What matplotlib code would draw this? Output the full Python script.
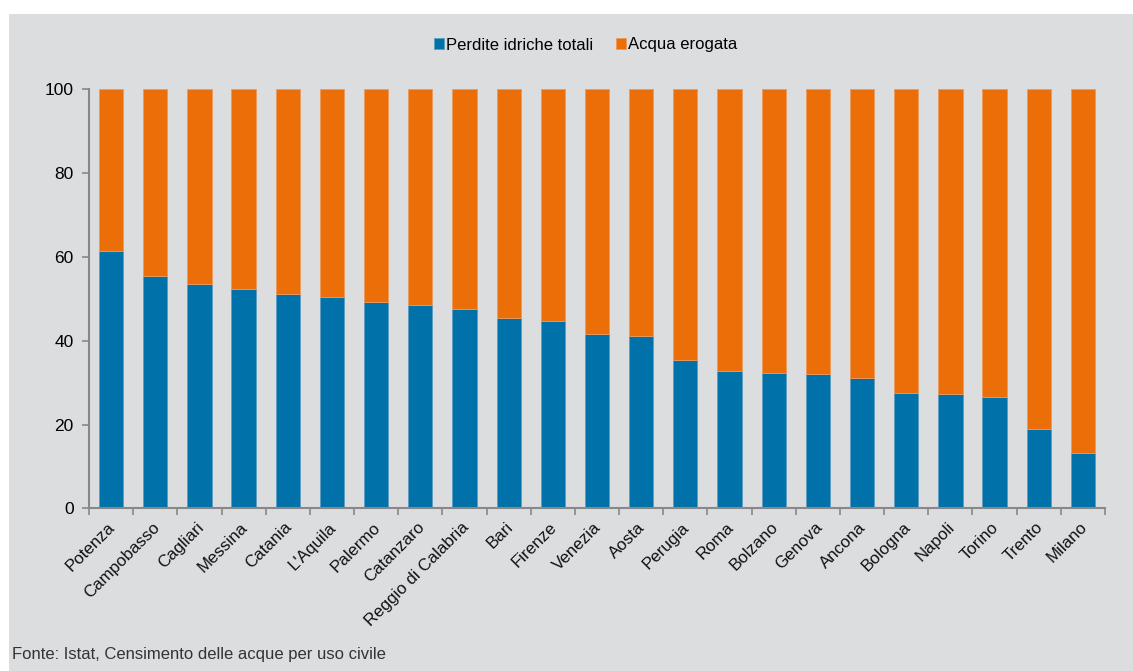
import matplotlib
matplotlib.use("Agg")
import matplotlib.pyplot as plt
from matplotlib.patches import Rectangle

cities = ["Potenza", "Campobasso", "Cagliari", "Messina", "Catania", "L'Aquila",
          "Palermo", "Catanzaro", "Reggio di Calabria", "Bari", "Firenze", "Venezia",
          "Aosta", "Perugia", "Roma", "Bolzano", "Genova", "Ancona", "Bologna",
          "Napoli", "Torino", "Trento", "Milano"]
perdite = [61.3, 55.5, 53.4, 52.3, 51.2, 50.5, 49.2, 48.4, 47.5, 45.4, 44.6, 41.7,
           41.2, 35.5, 32.7, 32.4, 32.0, 31.1, 27.6, 27.2, 26.5, 19.0, 13.2]
erogata = [38.7, 44.5, 46.6, 47.7, 48.8, 49.5, 50.8, 51.6, 52.5, 54.6, 55.4, 58.3,
           58.8, 64.5, 67.3, 67.6, 68.0, 68.9, 72.4, 72.8, 73.5, 81.0, 86.8]
yticks = [0, 20, 40, 60, 80, 100]

BLUE = "#0071A9"
ORANGE = "#EB6E08"
BG = "#DCDDDF"

plt.rcParams['font.family'] = ['Liberation Sans', 'DejaVu Sans']

fig = plt.figure(figsize=(11.33, 6.71), dpi=100)
fig.patch.set_facecolor("white")
fig.add_artist(Rectangle((9 / 1133, 0), 1, 1 - 14 / 671, transform=fig.transFigure,
                         facecolor=BG, edgecolor="none", zorder=0))

ax = fig.add_axes([89 / 1133, 1 - 508.4 / 671, (1105 - 89) / 1133, (508.4 - 89) / 671])
ax.set_facecolor(BG)
ax.patch.set_alpha(0)

x = list(range(len(cities)))
ax.bar(x, perdite, width=0.55, color=BLUE, edgecolor="#5E9CC4", linewidth=0.6,
       label="Perdite idriche totali", zorder=2)
ax.bar(x, erogata, width=0.55, bottom=perdite, color=ORANGE, edgecolor="#EE9A5A",
       linewidth=0.6, label="Acqua erogata", zorder=2)

ax.set_xlim(-0.5, len(cities) - 0.5)
ax.set_ylim(0, 100)
ax.set_yticks(yticks)
ax.set_yticklabels([str(v) for v in yticks], fontsize=12.5)

ax.set_xticks([i + 0.5 for i in range(-1, len(cities))], minor=False)
ax.set_xticklabels([])
ax.tick_params(axis="x", length=5, width=1.2, color="#888888", direction="out")
ax.tick_params(axis="y", length=5, width=1.2, color="#888888", direction="out", pad=6)

for i, c in enumerate(cities):
    ax.annotate(c, xy=(i - 0.08, 0), xycoords=("data", "axes fraction"),
                xytext=(0, -8), textcoords="offset points",
                rotation=45, rotation_mode="anchor", ha="right", va="top",
                fontsize=12.2, color="#111111")

for s in ["top", "right"]:
    ax.spines[s].set_visible(False)
for s in ["left", "bottom"]:
    ax.spines[s].set_color("#888888")
    ax.spines[s].set_linewidth(1.5)

leg = fig.legend(loc="center", bbox_to_anchor=(0.517, 1 - 45 / 671), ncol=2,
                 frameon=False, fontsize=12, handlelength=0.6, handleheight=0.6,
                 handletextpad=0.1, columnspacing=1.4)

fig.text(12 / 1133, 1 - 655 / 671, "Fonte: Istat, Censimento delle acque per uso civile",
         fontsize=12, color="#333333", va="center", ha="left")

fig.savefig("out.png", dpi=100, facecolor=fig.get_facecolor())
